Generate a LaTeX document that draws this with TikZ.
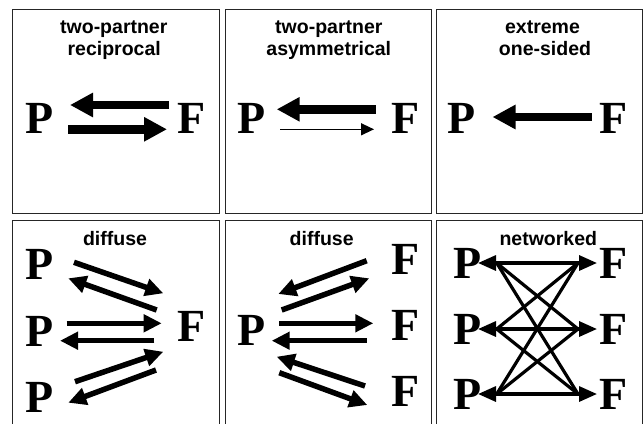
\documentclass[tikz,border=0pt]{standalone}
\usepackage{fontspec}
\setmainfont{Liberation Serif}
\setsansfont{Liberation Sans}
\usetikzlibrary{arrows.meta}
\tikzset{
  panel/.style={draw=black!85, line width=1pt},
  letter/.style={inner sep=0pt, font=\bfseries\fontsize{46}{46}\selectfont},
  ttl/.style={inner sep=0pt, anchor=base, font=\sffamily\bfseries\fontsize{19.5}{20}\selectfont},
  bigarrow/.style={line width=8.5pt, -{Triangle[length=23pt,width=23pt]}},
  thinarrow/.style={line width=1.4pt, -{Triangle[length=13pt,width=12pt]}},
  midarrow/.style={line width=5.5pt, -{Triangle[length=18pt,width=17pt]}},
  netline/.style={line width=3.2pt},
  netarrow/.style={line width=3.2pt, {Triangle[length=18pt,width=15pt]}-{Triangle[length=18pt,width=15pt]}}
}
\begin{document}
\begin{tikzpicture}[x=1pt,y=-1pt]
\useasboundingbox (0,0) rectangle (644,423);
\clip (0,0) rectangle (644,423);
\fill[white] (0,0) rectangle (644,423);
% panels
\draw[panel] (12.5,9) rectangle (219.5,213.5);
\draw[panel] (225,9) rectangle (431,213.5);
\draw[panel] (436,9) rectangle (642.5,213.5);
\draw[panel] (12.5,220.5) rectangle (219.5,440);
\draw[panel] (225,220.5) rectangle (431,440);
\draw[panel] (436,220.5) rectangle (642.5,440);

% ---------- panel 1
\node[ttl] (t1a) at (113.8,33.3) {two-partner};
\node[ttl] (t1b) at (114.2,55.5) {reciprocal};
\node[letter] (p1) at (39.5,118) {P};
\node[letter] (f1) at (191.5,118) {F};
\coordinate (a1s) at (169,105);  \coordinate (a1e) at (70,105);
\coordinate (b1s) at (68,129.3); \coordinate (b1e) at (167,129.3);
\draw[bigarrow] (a1s) -- (a1e);
\draw[bigarrow] (b1s) -- (b1e);

% ---------- panel 2
\node[ttl] (t2a) at (328.8,33.3) {two-partner};
\node[ttl] (t2b) at (328.8,55.5) {asymmetrical};
\node[letter] (p2) at (251.5,118) {P};
\node[letter] (f2) at (406,118) {F};
\coordinate (a2s) at (375.7,109.3); \coordinate (a2e) at (276.7,109.3);
\coordinate (b2s) at (280,129.3);   \coordinate (b2e) at (374,129.3);
\draw[bigarrow] (a2s) -- (a2e);
\draw[thinarrow] (b2s) -- (b2e);

% ---------- panel 3
\node[ttl] (t3a) at (542.5,33.3) {extreme};
\node[ttl] (t3b) at (545,55.5) {one-sided};
\node[letter] (p3) at (461.7,118) {P};
\node[letter] (f3) at (614,118) {F};
\coordinate (a3s) at (591.7,117); \coordinate (a3e) at (492.5,117);
\draw[bigarrow] (a3s) -- (a3e);

% ---------- panel 4
\node[ttl] (t4) at (115,245.5) {diffuse};
\node[letter] (p4a) at (39.5,264) {P};
\node[letter] (p4b) at (39.5,331) {P};
\node[letter] (p4c) at (39.5,397.5) {P};
\node[letter] (f4) at (191.5,326) {F};
\coordinate (c41s) at (74,262.3);    \coordinate (c41e) at (163.3,293.3);
\coordinate (c42s) at (156.7,310);   \coordinate (c42e) at (68.3,278.3);
\coordinate (c43s) at (66.7,323.3);  \coordinate (c43e) at (161.7,323.3);
\coordinate (c44s) at (154.3,340.7); \coordinate (c44e) at (60,340.7);
\coordinate (c45s) at (75,381.7);    \coordinate (c45e) at (163.3,351.7);
\coordinate (c46s) at (156,370);     \coordinate (c46e) at (68.3,402.7);
\foreach \i in {1,...,6} \draw[midarrow] (c4\i s) -- (c4\i e);

% ---------- panel 5
\node[ttl] (t5) at (321.7,245.5) {diffuse};
\node[letter] (p5) at (251.7,330) {P};
\node[letter] (f5a) at (405.8,259) {F};
\node[letter] (f5b) at (405.8,325) {F};
\node[letter] (f5c) at (405.8,391) {F};
\coordinate (c51s) at (366.7,260.7); \coordinate (c51e) at (278.3,294);
\coordinate (c52s) at (281.7,310);   \coordinate (c52e) at (369.3,278.3);
\coordinate (c53s) at (279.3,323.3); \coordinate (c53e) at (373.3,323.3);
\coordinate (c54s) at (366.7,340.7); \coordinate (c54e) at (271.7,340.7);
\coordinate (c55s) at (365,386);     \coordinate (c55e) at (276.7,356.7);
\coordinate (c56s) at (279.3,372.7); \coordinate (c56e) at (367.3,405);
\foreach \i in {1,...,6} \draw[midarrow] (c5\i s) -- (c5\i e);

% ---------- panel 6
\node[ttl] (t6) at (548.3,245.5) {networked};
\node[letter] (p6a) at (468,263) {P};
\node[letter] (p6b) at (468,329) {P};
\node[letter] (p6c) at (468,394) {P};
\node[letter] (f6a) at (614,263) {F};
\node[letter] (f6b) at (614,329) {F};
\node[letter] (f6c) at (614,394) {F};
\coordinate (L1) at (496.7,263); \coordinate (R1) at (578,263);
\coordinate (L2) at (496.7,329); \coordinate (R2) at (578,329);
\coordinate (L3) at (496.7,394); \coordinate (R3) at (578,394);
\coordinate (tl1) at (478,263); \coordinate (tr1) at (597,263);
\coordinate (tl2) at (478,329); \coordinate (tr2) at (597,329);
\coordinate (tl3) at (478,394); \coordinate (tr3) at (597,394);
\foreach \i in {1,2,3}{
  \foreach \j in {1,2,3}{
    \ifnum\i=\j\relax\else \draw[netline, line cap=round] (L\i) -- (R\j);\fi
  }
  \draw[netarrow] (tl\i) -- (tr\i);
}
\end{tikzpicture}
\end{document}
